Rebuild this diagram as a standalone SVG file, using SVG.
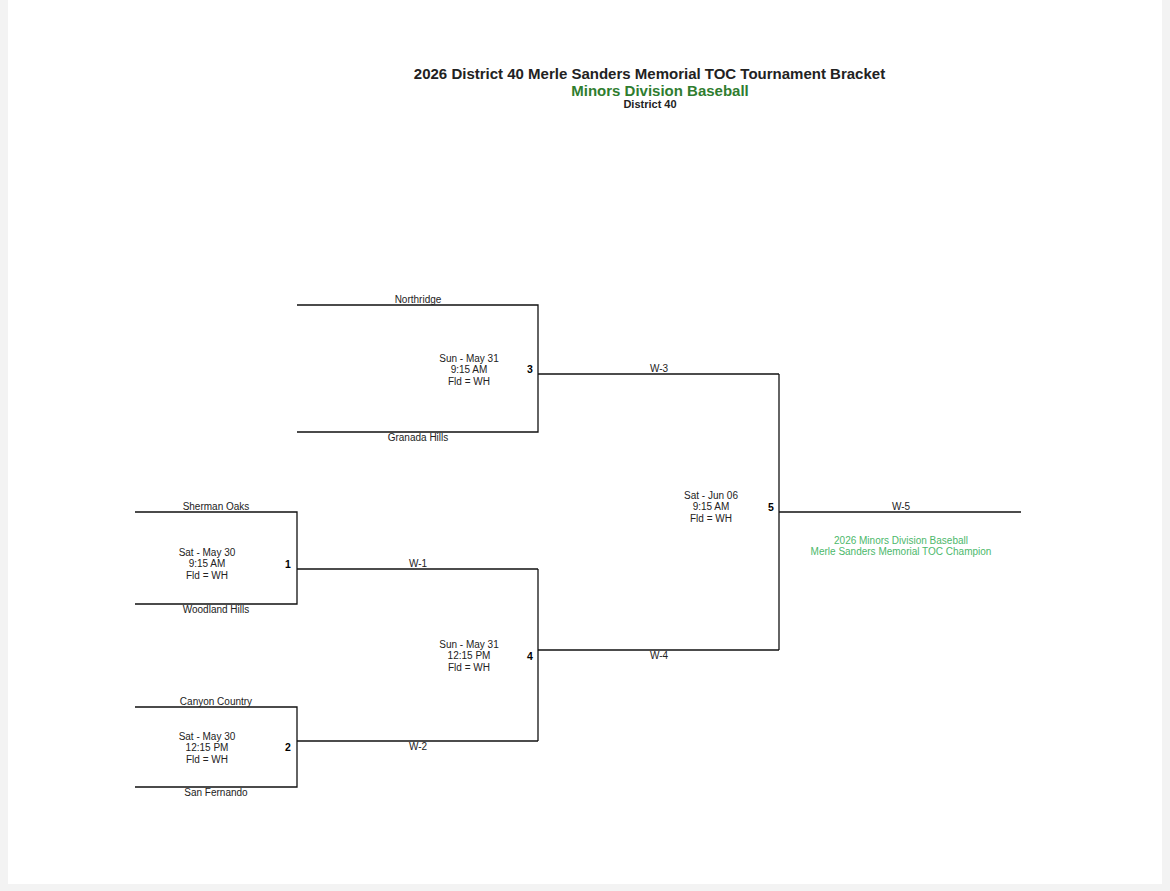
<svg xmlns="http://www.w3.org/2000/svg" width="1170" height="891" viewBox="0 0 1170 891">
<style>
  text { font-family: "Liberation Sans", Arial, sans-serif; text-anchor: middle; fill: #222; }
  .team { font-size: 10px; }
  .info { font-size: 10px; }
  .num { font-size: 10.5px; font-weight: bold; fill: #000; }
  .win { font-size: 10px; }
  .champ { font-size: 10px; fill: #4cb86a; }
  .ln { stroke: #111; stroke-width: 1.3; fill: none; }
</style>
<rect x="0" y="0" width="1170" height="891" fill="#f3f3f3"/>
<rect x="8" y="0" width="1154" height="884" fill="#ffffff"/>
<g id="title">
  <text x="649.5" y="79" font-size="15" font-weight="bold" fill="#000">2026 District 40 Merle Sanders Memorial TOC Tournament Bracket</text>
  <text x="660" y="96" font-size="15" font-weight="bold" style="fill:#2f7d2f">Minors Division Baseball</text>
  <text x="650" y="107.5" font-size="11" font-weight="bold" fill="#000">District 40</text>
</g>
<g id="connectors">
  <polyline class="ln" points="297,305 538,305 538,432 297,432"/>
  <line class="ln" x1="538" y1="374" x2="779" y2="374"/>
  <polyline class="ln" points="135,512 297,512 297,604 135,604"/>
  <line class="ln" x1="297" y1="569" x2="538" y2="569"/>
  <polyline class="ln" points="135,707 297,707 297,787 135,787"/>
  <line class="ln" x1="297" y1="741" x2="538" y2="741"/>
  <line class="ln" x1="538" y1="569" x2="538" y2="741"/>
  <line class="ln" x1="538" y1="650" x2="779" y2="650"/>
  <line class="ln" x1="779" y1="374" x2="779" y2="650"/>
  <line class="ln" x1="779" y1="512" x2="1021" y2="512"/>
</g>
<g id="game1">
  <text class="team" x="216" y="509.5">Sherman Oaks</text>
  <text class="team" x="216" y="612.5">Woodland Hills</text>
  <text class="info" x="207" y="555.5">Sat - May 30</text>
  <text class="info" x="207" y="567">9:15 AM</text>
  <text class="info" x="207" y="578.5">Fld = WH</text>
  <text class="num" x="288" y="568">1</text>
</g>
<g id="game2">
  <text class="team" x="216" y="704.5">Canyon Country</text>
  <text class="team" x="216" y="795.5">San Fernando</text>
  <text class="info" x="207" y="739.5">Sat - May 30</text>
  <text class="info" x="207" y="751">12:15 PM</text>
  <text class="info" x="207" y="762.5">Fld = WH</text>
  <text class="num" x="288" y="751">2</text>
</g>
<g id="game3">
  <text class="team" x="418" y="302.5">Northridge</text>
  <text class="team" x="418" y="440.5">Granada Hills</text>
  <text class="info" x="469" y="361.5">Sun - May 31</text>
  <text class="info" x="469" y="373">9:15 AM</text>
  <text class="info" x="469" y="384.5">Fld = WH</text>
  <text class="num" x="530" y="373">3</text>
  <text class="win" x="659" y="371.5">W-3</text>
</g>
<g id="game4">
  <text class="win" x="418" y="566.5">W-1</text>
  <text class="win" x="418" y="749.5">W-2</text>
  <text class="info" x="469" y="647.5">Sun - May 31</text>
  <text class="info" x="469" y="659">12:15 PM</text>
  <text class="info" x="469" y="670.5">Fld = WH</text>
  <text class="num" x="530" y="660">4</text>
  <text class="win" x="659" y="659">W-4</text>
</g>
<g id="game5">
  <text class="info" x="711" y="498.5">Sat - Jun 06</text>
  <text class="info" x="711" y="510">9:15 AM</text>
  <text class="info" x="711" y="521.5">Fld = WH</text>
  <text class="num" x="771" y="511">5</text>
  <text class="win" x="901" y="509.5">W-5</text>
</g>
<g id="champion">
  <text class="champ" x="901" y="543.5">2026 Minors Division Baseball</text>
  <text class="champ" x="901" y="555">Merle Sanders Memorial TOC Champion</text>
</g>
</svg>
